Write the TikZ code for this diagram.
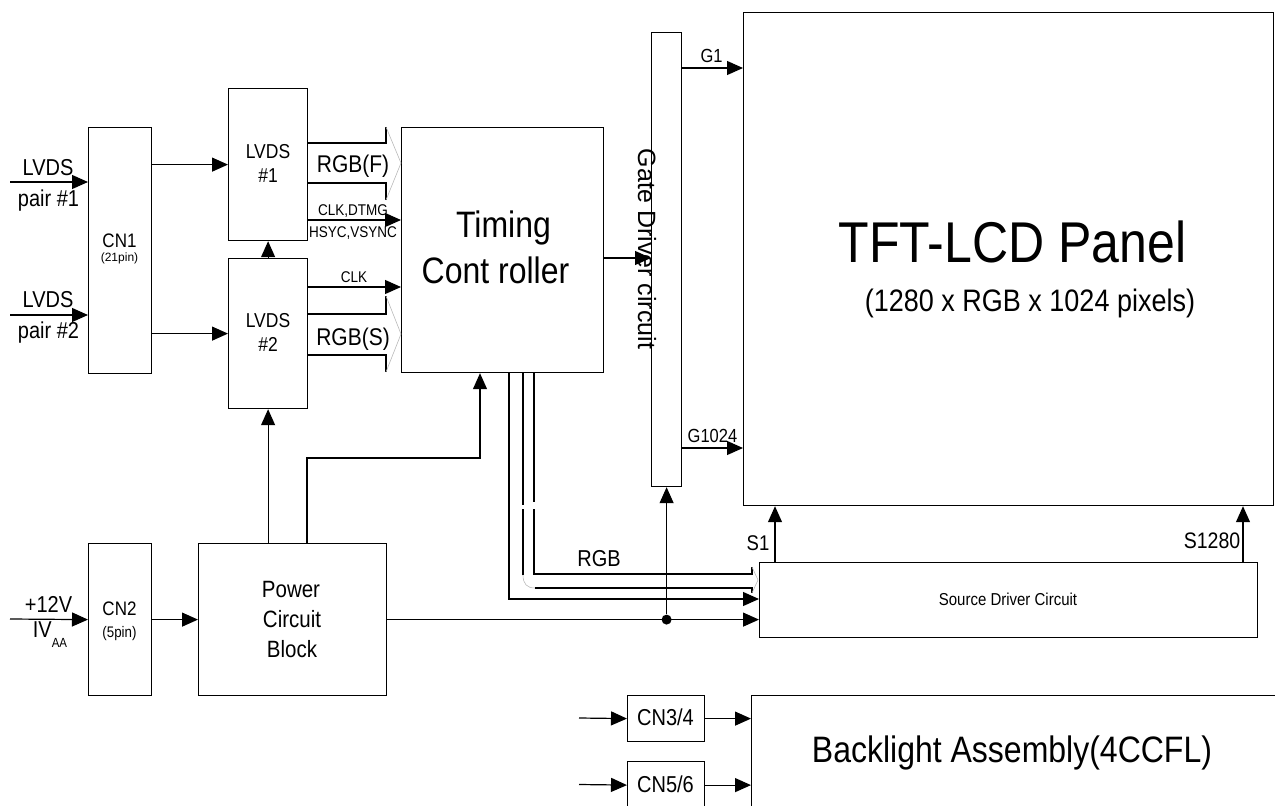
\documentclass[tikz,border=0pt]{standalone}
\usepackage{fontspec}
\setmainfont{Liberation Sans}
\usepackage{graphicx}
\usetikzlibrary{arrows.meta,calc}
\newcommand{\dtxt}[2]{{\fontsize{#1}{#1}\selectfont\scalebox{1}[1.15]{#2}}}
\begin{document}
\begin{tikzpicture}[x=1pt,y=-1pt,line width=1.2pt,
  blk/.style={draw,rectangle,inner sep=0,anchor=north west},
  lbl/.style={inner sep=0,anchor=base},
  arr/.style={-{Triangle[length=16pt,width=14pt]}},
  gr/.style={draw=gray!55,line width=0.6pt}]
\useasboundingbox (0,0) rectangle (1275,806);
% boxes
\node[blk,minimum width=63pt,minimum height=246pt] (cn1) at (88,127) {};
\node[blk,minimum width=79pt,minimum height=152pt] (lv1) at (228,88) {};
\node[blk,minimum width=79pt,minimum height=150pt] (lv2) at (228,258) {};
\node[blk,minimum width=202pt,minimum height=245pt] (tc) at (401,127) {};
\node[blk,minimum width=30pt,minimum height=454pt] (gd) at (651,32) {};
\node[blk,minimum width=530pt,minimum height=493pt] (tft) at (743,12) {};
\node[blk,minimum width=498pt,minimum height=75pt] (sd) at (759,562) {};
\node[blk,minimum width=63pt,minimum height=152pt] (cn2) at (88,543) {};
\node[blk,minimum width=188pt,minimum height=152pt] (pw) at (198,543) {};
\node[blk,minimum width=77pt,minimum height=46pt] (cn34) at (627,695) {};
\node[blk,minimum width=77pt,minimum height=47pt] (cn56) at (627,761) {};
\node[blk,minimum width=540pt,minimum height=130pt] (bl) at (751,695) {};
% texts
\node[lbl] (l1a) at (48,175) {\dtxt{20}{LVDS}};
\node[lbl] (l1b) at (48.5,206) {\dtxt{20}{pair \#1}};
\node[lbl] (l2a) at (48,307) {\dtxt{20}{LVDS}};
\node[lbl] (l2b) at (48.5,338) {\dtxt{20}{pair \#2}};
\node[lbl] (cn1a) at (119.5,247) {\dtxt{17}{CN1}};
\node[lbl] (cn1b) at (119.5,261) {{\fontsize{12}{12}\selectfont (21pin)}};
\node[lbl] (lv1a) at (268,158) {\dtxt{17.5}{LVDS}};
\node[lbl] (lv1b) at (268,182) {\dtxt{17.5}{\#1}};
\node[lbl] (lv2a) at (268,327) {\dtxt{17.5}{LVDS}};
\node[lbl] (lv2b) at (268,351) {\dtxt{17.5}{\#2}};
\node[lbl] (rgbf) at (353,172) {\dtxt{21}{RGB(F)}};
\node[lbl] (clk1) at (353,215) {\dtxt{13.5}{CLK,DTMG}};
\node[lbl] (hsy) at (353,237) {\dtxt{13.5}{HSYC,VSYNC}};
\node[lbl] (clk2) at (354,282) {\dtxt{13.5}{CLK}};
\node[lbl] (rgbs) at (353,345) {\dtxt{21}{RGB(S)}};
\node[lbl] (tc1) at (503.5,237) {\dtxt{32}{Timing}};
\node[lbl] (tc2) at (495.5,283) {\dtxt{32}{Cont roller}};
\node[inner sep=0,rotate=-90,font=\fontsize{25}{25}\selectfont] (gdt) at (647,249) {Gate Driver circuit};
\node[lbl] (g1) at (711.5,62) {\dtxt{16.5}{G1}};
\node[lbl] (g1024) at (712.5,442) {\dtxt{16.5}{G1024}};
\node[lbl] (tft1) at (1012.5,262) {\dtxt{50}{TFT-LCD Panel}};
\node[lbl] (tft2) at (1030,311) {\dtxt{27}{(1280 x RGB x 1024 pixels)}};
\node[lbl] (s1) at (758,550) {\dtxt{18.5}{S1}};
\node[lbl] (s1280) at (1212,548) {\dtxt{19.5}{S1280}};
\node[lbl] (rgb) at (599,566) {\dtxt{20}{RGB}};
\node[lbl] (sdt) at (1008,605) {\dtxt{15}{Source Driver Circuit}};
\node[lbl] (pw1) at (291,597) {\dtxt{20.5}{Power}};
\node[lbl] (pw2) at (292,627) {\dtxt{20.5}{Circuit}};
\node[lbl] (pw3) at (292,657) {\dtxt{20.5}{Block}};
\node[lbl] (cn2a) at (119.5,615) {\dtxt{17}{CN2}};
\node[lbl] (cn2b) at (119.5,637) {\dtxt{13.3}{(5pin)}};
\node[lbl] (v12) at (48.5,612) {\dtxt{20}{+12V}};
\node[lbl] (ivaa) at (50,637) {{\fontsize{20}{20}\selectfont\scalebox{1}[1.15]{IV\raisebox{-9.5pt}{\fontsize{11.5}{11.5}\selectfont AA}}}};
\node[lbl] (cn34t) at (665.5,725) {\dtxt{20}{CN3/4}};
\node[lbl] (cn56t) at (665.5,792) {\dtxt{20}{CN5/6}};
\node[lbl] (blt) at (1012,762) {\dtxt{32}{Backlight Assembly(4CCFL)}};
% inputs
\coordinate (in1) at (10,182);
\coordinate (in2) at (10,315);
\draw[arr] (in1) -- (in1 -| cn1.west);
\draw[arr] (in2) -- (in2 -| cn1.west);
\draw[arr] (cn1.east |- lv1.west) -- (lv1.west);
\draw[arr] (cn1.east |- lv2.west) -- (lv2.west);
\draw[arr] (lv2.north) -- (lv1.south);
% RGB(F) bus
\coordinate (fA) at (386,127); \coordinate (fB) at (386,143);
\coordinate (fC) at (386,183); \coordinate (fD) at (386,200);
\coordinate (fT) at (400,163);
\draw (lv1.east |- fB) -- (fB) -- (fA);
\draw (lv1.east |- fC) -- (fC) -- (fD);
\draw[gr] (fA) -- (tc.west |- fT) -- (fD);
% CLK lines
\coordinate (yc1) at (0,220); \coordinate (yc2) at (0,287);
\draw[arr] (lv1.east |- yc1) -- (tc.west |- yc1);
\draw[arr] (lv2.east |- yc2) -- (tc.west |- yc2);
% RGB(S) bus
\coordinate (sA) at (386,296); \coordinate (sB) at (386,314);
\coordinate (sC) at (386,355); \coordinate (sD) at (386,372);
\coordinate (sT) at (400,334);
\draw (lv2.east |- sB) -- (sB) -- (sA);
\draw (lv2.east |- sC) -- (sC) -- (sD);
\draw[gr] (sA) -- (tc.west |- sT) -- (sD);
% TC to gate driver, gate lines
\coordinate (ygd) at (0,258); \coordinate (yg1) at (0,68); \coordinate (yg2) at (0,448);
\draw[arr] (tc.east |- ygd) -- (gd.west |- ygd);
\draw[arr] (gd.east |- yg1) -- (tft.west |- yg1);
\draw[arr] (gd.east |- yg2) -- (tft.west |- yg2);
% source lines
\coordinate (xs1) at (775,0); \coordinate (xs2) at (1243,0);
\draw[arr] (sd.north -| xs1) -- (tft.south -| xs1);
\draw[arr] (sd.north -| xs2) -- (tft.south -| xs2);
% power
\draw[arr] (pw.east) -- (pw.east -| sd.west);
\node[circle,fill,inner sep=0,minimum size=10pt] (dot) at (gd.south |- pw.east) {};
\draw[arr] (dot) -- (gd.south);
\draw[arr] (pw.north -| lv2.south) -- (lv2.south);
\coordinate (p1) at (307,458); \coordinate (p2) at (480,458);
\draw[arr] (pw.north -| p1) -- (p1) -- (p2) -- (tc.south -| p2);
% TC to source driver
\coordinate (r1) at (509,599);
\draw[arr] (tc.south -| r1) -- (r1) -- (sd.west |- r1);
\coordinate (r3a) at (534,502); \coordinate (r3b) at (534,509);
\coordinate (r3c) at (534,574); \coordinate (r3d) at (752,574); \coordinate (r3e) at (752,567);
\draw (tc.south -| r3a) -- (r3a);
\draw (r3b) -- (r3c) -- (r3d) -- (r3e);
\coordinate (r2a) at (523,505); \coordinate (r2b) at (523,509); \coordinate (r2c) at (523,575);
\coordinate (r2d) at (535,588); \coordinate (r2e) at (752,588); \coordinate (r2f) at (752,593);
\coordinate (rT) at (758,580);
\draw (tc.south -| r2a) -- (r2a);
\draw (r2b) -- (r2c);
\draw[gr] (r2c) .. controls (523,584) and (527,588) .. (r2d);
\draw (r2d) -- (r2e) -- (r2f);
\draw[gr] (r3e) -- (rT) -- (r2f);
% 12V
\coordinate (in12) at (10,619);
\draw[arr] (in12) -- (cn2.west);
\draw[arr] (cn2.east) -- (pw.west);
% backlight
\coordinate (in34) at (579,718); \coordinate (in56) at (579,784.5);
\draw[arr] (in34) -- (cn34.west);
\draw[arr] (in56) -- (cn56.west);
\draw[arr] (cn34.east) -- (cn34.east -| bl.west);
\draw[arr] (cn56.east) -- (cn56.east -| bl.west);
\end{tikzpicture}
\end{document}
